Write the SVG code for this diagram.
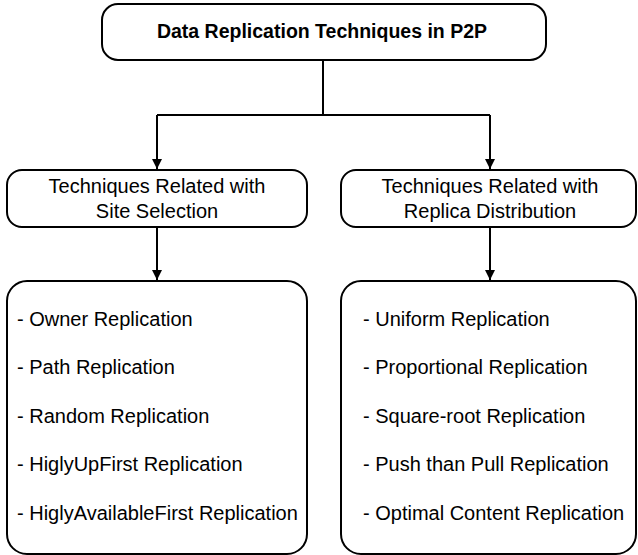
<svg xmlns="http://www.w3.org/2000/svg" width="638" height="555" viewBox="0 0 638 555">
<style>
.box{fill:#fff;stroke:#000;stroke-width:2}
.t{font-family:"Liberation Sans",Arial,sans-serif;font-size:20px;fill:#000}
.c{text-anchor:middle}
.b{font-weight:bold;font-size:19.5px}
.ln{fill:none;stroke:#000;stroke-width:2}
</style>
<defs>
<marker id="ah" markerWidth="10" markerHeight="12" refX="10" refY="5" orient="auto" markerUnits="userSpaceOnUse">
<path d="M0,0 L10,5 L0,10 Z" fill="#000"/>
</marker>
</defs>
<rect width="638" height="555" fill="#fff"/>
<g id="connectors">
<path class="ln" d="M323,60 V115"/>
<path class="ln" d="M157,115 H490"/>
<path class="ln" d="M157,115 V169" marker-end="url(#ah)"/>
<path class="ln" d="M490,115 V169" marker-end="url(#ah)"/>
<path class="ln" d="M157,227 V280" marker-end="url(#ah)"/>
<path class="ln" d="M490,227 V280" marker-end="url(#ah)"/>
</g>
<g id="root">
<rect class="box" x="102" y="4" width="444" height="56" rx="16"/>
<text class="t c b" x="322" y="38">Data Replication Techniques in P2P</text>
</g>
<g id="site">
<rect class="box" x="7" y="170" width="300" height="57" rx="15"/>
<text class="t c" x="157" y="193">Techniques Related with</text>
<text class="t c" x="157" y="218">Site Selection</text>
</g>
<g id="dist">
<rect class="box" x="341" y="170" width="295" height="57" rx="15"/>
<text class="t c" x="490" y="193">Techniques Related with</text>
<text class="t c" x="490" y="218">Replica Distribution</text>
</g>
<g id="site-list">
<rect class="box" x="7" y="281" width="300" height="273" rx="20"/>
<text class="t" x="17" y="326">- Owner Replication</text>
<text class="t" x="17" y="374">- Path Replication</text>
<text class="t" x="17" y="423">- Random Replication</text>
<text class="t" x="17" y="471">- HiglyUpFirst Replication</text>
<text class="t" x="17" y="520">- HiglyAvailableFirst Replication</text>
</g>
<g id="dist-list">
<rect class="box" x="341" y="281" width="295" height="273" rx="20"/>
<text class="t" x="363" y="326">- Uniform Replication</text>
<text class="t" x="363" y="374">- Proportional Replication</text>
<text class="t" x="363" y="423">- Square-root Replication</text>
<text class="t" x="363" y="471">- Push than Pull Replication</text>
<text class="t" x="363" y="520">- Optimal Content Replication</text>
</g>
</svg>
